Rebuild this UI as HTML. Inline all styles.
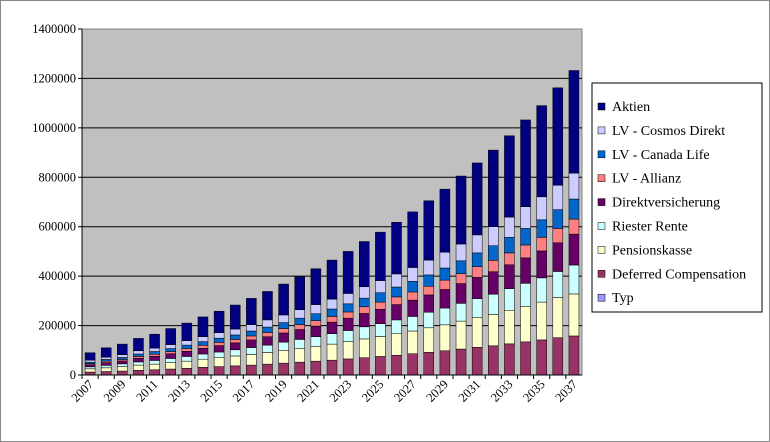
<!DOCTYPE html>
<html><head><meta charset="utf-8"><style>
body{margin:0;background:#fff;}
svg{display:block;font-family:"Liberation Serif",serif;}
</style></head><body>
<svg id="chart" width="770" height="442" viewBox="0 0 770 442">
<rect x="0.5" y="0.5" width="769" height="441" fill="#fff" stroke="#888"/>
<rect x="82" y="29" width="500" height="346" fill="#c0c0c0" stroke="#808080"/>
<g id="grid"></g><g id="bars"></g><g id="yaxis"></g><g id="xaxis"></g>
<g id="legend"></g>
</svg>
<script>
const years=[2007,2008,2009,2010,2011,2012,2013,2014,2015,2016,2017,2018,2019,2020,2021,2022,2023,2024,2025,2026,2027,2028,2029,2030,2031,2032,2033,2034,2035,2036,2037];
const seriesNames=["Deferred Compensation","Pensionskasse","Riester Rente","Direktversicherung","LV - Allianz","LV - Canada Life","LV - Cosmos Direkt","Aktien"];
const deferred=[12,14,16,19,21,24,27,31,34,37,40,44,48,52,56,60,65,70,75,80,86,92,98,105,112,118,126,134,142,151,158];
const pension=[13,15,18,21,23,26,29,33,36,40,43,47,52,56,60,65,70,76,81,87,92,99,105,113,120,127,136,144,153,163,170];
const riester=[8,10,11,13,15,17,19,21,23,25,28,30,33,36,39,42,45,49,52,56,59,63,68,72,77,82,87,93,98,105,117];
const direkt=[9,11,12,15,17,19,21,23,26,28,31,34,37,40,43,47,50,54,58,62,66,70,75,80,86,91,97,103,109,116,125];
const allianz=[4,6,6,7,8,9,11,12,13,14,16,17,18,20,22,23,25,27,29,31,33,35,38,40,43,46,48,52,55,58,61];
const canada=[6,7,8,10,11,12,14,15,17,18,20,22,24,26,28,30,33,35,38,40,43,46,49,52,56,59,63,67,71,76,81];
const cosmos=[8,9,11,13,14,16,18,20,22,24,26,29,31,34,37,40,42,46,49,53,56,60,64,68,73,77,82,88,93,99,105];
const aktien=[30,38,43,50,56,65,71,80,87,97,106,115,125,134,145,158,170,183,196,209,225,240,255,275,291,310,329,351,369,394,415];
const yTicks=[0,200000,400000,600000,800000,1000000,1200000,1400000];
const legendLabels=["Aktien","LV - Cosmos Direkt","LV - Canada Life","LV - Allianz","Direktversicherung","Riester Rente","Pensionskasse","Deferred Compensation","Typ"];
const colors=["#993366","#ffffcc","#ccffff","#660066","#ff8080","#0066cc","#ccccff","#000080"];
const legendColors=["#000080","#ccccff","#0066cc","#ff8080","#660066","#ccffff","#ffffcc","#993366","#9999ff"];
const series=[deferred,pension,riester,direkt,allianz,canada,cosmos,aktien];
const NS="http://www.w3.org/2000/svg";
const X0=82,W=500,Y0=375,H=346,YMAX=1400000;
const step=W/years.length,bw=10;
const y=v=>Y0-v/YMAX*H;
const x=i=>X0+step*i+step/2;
function mk(t,a,p){const e=document.createElementNS(NS,t);for(const k in a)e.setAttribute(k,a[k]);p.appendChild(e);return e;}
const grid=document.getElementById('grid'),yax=document.getElementById('yaxis'),xax=document.getElementById('xaxis'),bars=document.getElementById('bars'),leg=document.getElementById('legend');
yTicks.forEach(v=>{
 if(v>0&&v<YMAX){const l=mk('line',{x1:X0,x2:X0+W,y1:y(v),y2:y(v),stroke:'#000','stroke-width':1},grid);
 
 }
 const tk=mk('line',{x1:X0-4,x2:X0,y1:y(v),y2:y(v),stroke:'#000'},yax);
 
 
 const t=mk('text',{x:X0-6,y:y(v)+4,'text-anchor':'end','font-size':12.5},yax);
 t.textContent=v;
 
 
});
mk('line',{x1:X0,x2:X0,y1:29,y2:Y0,stroke:'#000'},yax);
mk('line',{x1:X0,x2:X0+W,y1:Y0,y2:Y0,stroke:'#000'},xax);
years.forEach((yr,i)=>{
 const tk=mk('line',{x1:X0+step*i,x2:X0+step*i,y1:Y0,y2:Y0+4,stroke:'#000'},xax);
 
 
 if(i%2===0){const t=mk('text',{x:x(i)+4,y:Y0+10,'text-anchor':'end','font-size':12.5,transform:`rotate(-45 ${x(i)+4} ${Y0+10})`},xax);
 t.textContent=yr;
 
 }
 let acc=0;
 series.forEach((s,k)=>{const v=s[i]*1000;
  const r=mk('rect',{x:x(i)-bw/2,y:y(acc+v),width:bw,height:v/YMAX*H,fill:colors[k],stroke:'#000','stroke-width':0.5},bars);
  
  
  acc+=v;});
});
mk('rect',{x:592,y:83,width:170,height:229,fill:'#fff',stroke:'#000'},leg);
legendLabels.forEach((lb,j)=>{const cy=107+j*23.9;
 const m=mk('rect',{x:598,y:cy-4,width:7,height:7,fill:legendColors[j],stroke:'#000','stroke-width':0.5},leg);
 
 
 const t=mk('text',{x:612,y:cy+4,'font-size':14},leg);
 t.textContent=lb;
 
 
});
</script>
</body></html>
